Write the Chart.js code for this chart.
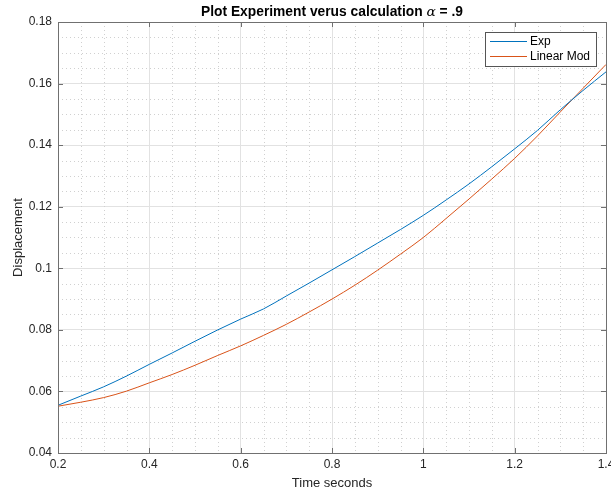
<!DOCTYPE html>
<html><head><meta charset="utf-8">
<script src="https://cdn.jsdelivr.net/npm/chart.js@4/dist/chart.umd.min.js"></script>
<style>
html,body{margin:0;padding:0;background:#fff;overflow:hidden;}
#wrap{width:611px;height:492px;overflow:hidden;position:relative;background:#fff;}
#wrap canvas{position:absolute;left:0;top:0;}
</style></head><body>
<div id="wrap"><canvas id="c" width="640" height="492" style="width:640px;height:492px"></canvas></div>
<script>
// ---- data ----
const timeSeconds = [0.20,0.25,0.30,0.35,0.40,0.45,0.50,0.55,0.60,0.65,0.70,0.75,0.80,0.85,0.90,0.95,1.00,1.05,1.10,1.15,1.20,1.25,1.30,1.35,1.40];
const expDisplacement = [0.0555,0.0585,0.0615,0.0650,0.0688,0.0725,0.0763,0.0800,0.0835,0.0868,0.0910,0.0952,0.0995,0.1038,0.1082,0.1126,0.1172,0.1222,0.1274,0.1330,0.1388,0.1448,0.1515,0.1578,0.1638];
const linearModDisplacement = [0.0552,0.0565,0.0580,0.0601,0.0628,0.0655,0.0685,0.0717,0.0748,0.0782,0.0818,0.0858,0.0900,0.0945,0.0994,0.1046,0.1100,0.1162,0.1225,0.1290,0.1357,0.1430,0.1508,0.1585,0.1662];
const seriesLabels = ['Exp','Linear Mod'];
const xTickValues = [0.2,0.4,0.6,0.8,1.0,1.2,1.4];
const yTickValues = [0.04,0.06,0.08,0.10,0.12,0.14,0.16,0.18];
const titleParts = [['Plot Experiment verus calculation ','bold'],['\u03B1','italic'],[' = .9','bold']];
const xTitle = 'Time seconds';
const yTitle = 'Displacement';

const FONT = '"Liberation Sans", Arial, Helvetica, sans-serif';
const TEXT = '#262626';
const fmt = v => String(parseFloat(Number(v).toFixed(2)));
const toXY = (xs, ys) => xs.map((x,i)=>({x:x, y:ys[i]}));
function minorsOf(majors, n){
  const out=[];
  for(let i=0;i<majors.length-1;i++){
    const a=majors[i], b=majors[i+1];
    for(let k=1;k<n;k++) out.push(a+(b-a)*k/n);
  }
  return out;
}

const matlabPlugin = {
  id:'matlab',
  beforeDatasetsDraw(chart){
    const {ctx, chartArea:a, scales:{x,y}} = chart;
    ctx.save();
    ctx.strokeStyle = '#d0d0d0';
    ctx.lineWidth = 1;
    ctx.setLineDash([1,3]);
    minorsOf(xTickValues,4).forEach(v=>{
      const px = Math.round(x.getPixelForValue(v))+0.5;
      ctx.beginPath(); ctx.moveTo(px,a.top); ctx.lineTo(px,a.bottom); ctx.stroke();
    });
    minorsOf(yTickValues,4).forEach(v=>{
      const py = Math.round(y.getPixelForValue(v))+0.5;
      ctx.beginPath(); ctx.moveTo(a.left,py); ctx.lineTo(a.right,py); ctx.stroke();
    });
    ctx.restore();
  },
  afterDatasetsDraw(chart){
    const {ctx, chartArea:a, scales:{x,y}} = chart;
    ctx.save();
    ctx.strokeStyle = '#707070';
    ctx.lineWidth = 1;
    ctx.setLineDash([]);
    ctx.strokeRect(Math.round(a.left)+0.5, Math.round(a.top)+0.5, Math.round(a.right-a.left), Math.round(a.bottom-a.top));
    const tl = 5;
    ctx.beginPath();
    xTickValues.forEach(v=>{
      const px = Math.round(x.getPixelForValue(v))+0.5;
      ctx.moveTo(px,a.bottom); ctx.lineTo(px,a.bottom-tl);
      ctx.moveTo(px,a.top); ctx.lineTo(px,a.top+tl);
    });
    yTickValues.forEach(v=>{
      const py = Math.round(y.getPixelForValue(v))+0.5;
      ctx.moveTo(a.left,py); ctx.lineTo(a.left+tl,py);
      ctx.moveTo(a.right,py); ctx.lineTo(a.right-tl,py);
    });
    ctx.stroke();
    const w = 111, h = 34;
    const lx = Math.round(a.right - 10 - w), ly = Math.round(a.top + 10);
    ctx.fillStyle = '#fff';
    ctx.fillRect(lx, ly, w, h);
    ctx.strokeStyle = '#555';
    ctx.strokeRect(lx+0.5, ly+0.5, w, h);
    ctx.font = '12px ' + FONT;
    ctx.textBaseline = 'middle';
    ctx.textAlign = 'left';
    chart.data.datasets.forEach((ds,i)=>{
      const yy = ly + 9.5 + i*15;
      ctx.strokeStyle = ds.borderColor;
      ctx.lineWidth = 1;
      ctx.beginPath(); ctx.moveTo(lx+5, yy); ctx.lineTo(lx+42, yy); ctx.stroke();
      ctx.fillStyle = '#000';
      ctx.fillText(ds.label, lx+45, yy+0.5);
    });
    ctx.restore();
  },
  afterDraw(chart){
    const {ctx, chartArea:a} = chart;
    ctx.save();
    ctx.fillStyle = '#000';
    ctx.textBaseline = 'middle';
    ctx.textAlign = 'left';
    const fonts = titleParts.map(p => (p[1]==='bold' ? 'bold 13.8px ' + FONT : 'italic 13.8px "DejaVu Serif", serif'));
    let total = 0;
    titleParts.forEach((p,i)=>{ ctx.font = fonts[i]; total += ctx.measureText(p[0]).width; });
    let cx = (a.left + a.right)/2 - total/2;
    titleParts.forEach((p,i)=>{ ctx.font = fonts[i]; ctx.fillText(p[0], cx, 12); cx += ctx.measureText(p[0]).width; });
    ctx.restore();
  }
};

new Chart(document.getElementById('c'), {
  type:'line',
  data:{
    datasets:[
      {label:seriesLabels[0], data:toXY(timeSeconds, expDisplacement), borderColor:'#0072BD', borderWidth:1, pointRadius:0, fill:false, cubicInterpolationMode:'monotone'},
      {label:seriesLabels[1], data:toXY(timeSeconds, linearModDisplacement), borderColor:'#D95319', borderWidth:1, pointRadius:0, fill:false, cubicInterpolationMode:'monotone'}
    ]
  },
  options:{
    responsive:false,
    animation:false,
    devicePixelRatio:1,
    layout:{padding:{top:22,right:34,bottom:0,left:0}},
    plugins:{legend:{display:false}, title:{display:false}, tooltip:{enabled:false}},
    scales:{
      x:{
        type:'linear', min:0.2, max:1.4,
        afterBuildTicks: s => { s.ticks = xTickValues.map(v=>({value:v})); },
        ticks:{callback:v=>fmt(v), color:TEXT, font:{family:FONT,size:12}, padding:4, maxRotation:0, autoSkip:false},
        grid:{color:'#e2e2e2', lineWidth:1, drawTicks:false},
        border:{display:false},
        title:{display:true, text:xTitle, color:TEXT, font:{family:FONT,size:13}, padding:{top:0,bottom:1}},
        afterFit: s => { s.height = 39; }
      },
      y:{
        type:'linear', min:0.04, max:0.18,
        afterBuildTicks: s => { s.ticks = yTickValues.map(v=>({value:v})); },
        ticks:{callback:v=>fmt(v), color:TEXT, font:{family:FONT,size:12}, padding:6, autoSkip:false},
        grid:{color:'#e2e2e2', lineWidth:1, drawTicks:false},
        border:{display:false},
        title:{display:true, text:yTitle, color:TEXT, font:{family:FONT,size:13}, padding:{top:11,bottom:0}},
        afterFit: s => { s.width = 58; }
      }
    }
  },
  plugins:[matlabPlugin]
});
</script>
</body></html>
